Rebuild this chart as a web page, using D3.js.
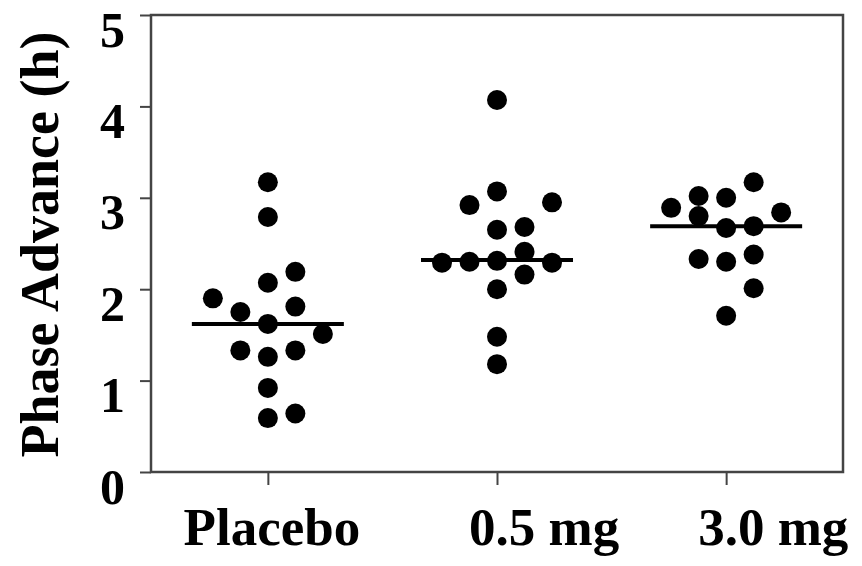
<!DOCTYPE html>
<html>
<head>
<meta charset="utf-8">
<script src="https://cdn.jsdelivr.net/npm/d3@7"></script>
<style>
  body { margin: 0; background: #fff; }
  text { font-family: "Liberation Serif", "Times New Roman", serif; font-weight: bold; }
</style>
</head>
<body>
<div id="vis"></div>
<script>
// groups along the x axis
const groups = ["Placebo", "0.5 mg", "3.0 mg"];

// phase advance (h) per subject, with the column slot each dot sits in
const placeboValues = [3.17, 2.79, 2.19, 2.07, 1.90, 1.81, 1.75, 1.62, 1.51, 1.33, 1.26, 1.33, 0.92, 0.64, 0.59];
const placeboSlots  = [0, 0, 1, 0, -2, 1, -1, 0, 2, -1, 0, 1, 0, 1, 0];

const lowDoseValues = [4.07, 3.07, 2.92, 2.95, 2.65, 2.68, 2.41, 2.29, 2.30, 2.31, 2.29, 2.16, 2.00, 1.48, 1.18];
const lowDoseSlots  = [0, 0, -1, 2, 0, 1, 1, -2, -1, 0, 2, 1, 0, 0, 0];

const highDoseValues = [3.17, 3.02, 3.00, 2.89, 2.80, 2.84, 2.67, 2.69, 2.33, 2.30, 2.38, 2.01, 1.71];
const highDoseSlots  = [1, -1, 0, -2, -1, 2, 0, 1, -1, 0, 1, 1, 0];

// group means (horizontal bars)
const means = [1.62, 2.32, 2.69];

const yTicks = [0, 1, 2, 3, 4, 5];

const series = [
  { group: groups[0], values: placeboValues, slots: placeboSlots },
  { group: groups[1], values: lowDoseValues, slots: lowDoseSlots },
  { group: groups[2], values: highDoseValues, slots: highDoseSlots }
];

const width = 862;
const height = 566;
const margin = { top: 15, right: 19, bottom: 94, left: 151 };

const svg = d3.select("#vis").append("svg")
  .attr("width", width)
  .attr("height", height)
  .attr("viewBox", [0, 0, width, height]);

const x = d3.scalePoint()
  .domain(groups)
  .range([margin.left, width - margin.right])
  .padding(0.51);

const slot = d3.scaleLinear([-2, 2], [-55, 55]);

const y = d3.scaleLinear([0, 5], [height - margin.bottom, margin.top]);

// frame
svg.append("rect")
  .attr("x", margin.left)
  .attr("y", margin.top)
  .attr("width", width - margin.left - margin.right)
  .attr("height", height - margin.top - margin.bottom)
  .attr("fill", "none")
  .attr("stroke", "#444")
  .attr("stroke-width", 2.5);

// y axis
const yAxis = svg.append("g")
  .attr("transform", `translate(${margin.left},0)`)
  .call(d3.axisLeft(y).tickValues(yTicks).tickSize(11).tickPadding(15).tickFormat(d3.format("d")));
yAxis.select(".domain").remove();
yAxis.selectAll(".tick line").attr("stroke", "#444").attr("stroke-width", 2);
yAxis.selectAll(".tick text")
  .attr("dy", null)
  .attr("y", 31)
  .attr("fill", "#000")
  .style("font-size", "50px")
  .style("font-family", "'Liberation Serif', serif")
  .style("font-weight", "bold");

// x axis
const xAxis = svg.append("g")
  .attr("transform", `translate(0,${height - margin.bottom})`)
  .call(d3.axisBottom(x).tickSize(13).tickFormat(""));
xAxis.select(".domain").remove();
xAxis.selectAll(".tick line").attr("stroke", "#444").attr("stroke-width", 2);

svg.append("g")
  .selectAll("text")
  .data(groups)
  .join("text")
  .attr("x", (d, i) => i === 0 ? x(d) + 4 : x(d) - 28)
  .attr("y", 545)
  .attr("text-anchor", (d, i) => i === 0 ? "middle" : "start")
  .style("font-size", "53px")
  .text(d => d);

// y axis title
svg.append("text")
  .attr("transform", `translate(58,${(margin.top + height - margin.bottom) / 2 + 1}) rotate(-90)`)
  .attr("text-anchor", "middle")
  .style("font-size", "54px")
  .text("Phase Advance (h)");

// mean bars
svg.append("g")
  .selectAll("line")
  .data(means)
  .join("line")
  .attr("x1", (d, i) => x(groups[i]) - 76)
  .attr("x2", (d, i) => x(groups[i]) + 76)
  .attr("y1", d => y(d))
  .attr("y2", d => y(d))
  .attr("stroke", "#000")
  .attr("stroke-width", 4);

// dots
svg.append("g")
  .selectAll("circle")
  .data(series.flatMap(s => s.values.map((v, i) => ({ group: s.group, value: v, slot: s.slots[i] }))))
  .join("circle")
  .attr("cx", d => x(d.group) + slot(d.slot))
  .attr("cy", d => y(d.value))
  .attr("r", 10)
  .attr("fill", "#000");
</script>
</body>
</html>
